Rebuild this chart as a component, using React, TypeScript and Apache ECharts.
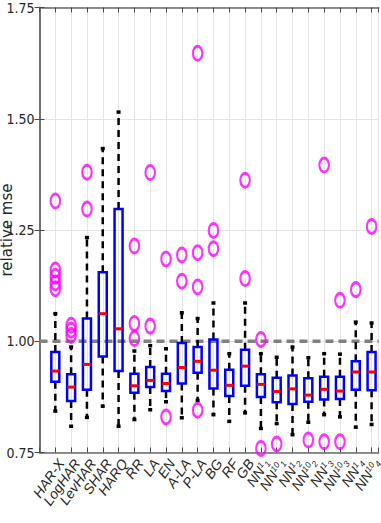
import React, { useEffect, useRef } from "react";
import * as echarts from "echarts";

// ---- data ----
const categories = [
  "HAR-X", "LogHAR", "LevHAR", "SHAR", "HARQ", "RR", "LA", "EN", "A-LA", "P-LA",
  "BG", "RF", "GB", "NN^1_1", "NN^10_1", "NN^1_2", "NN^10_2", "NN^1_3", "NN^10_3",
  "NN^1_4", "NN^10_4",
];
const whiskerLow = [0.843, 0.809, 0.829, 0.854, 0.809, 0.824, 0.846, 0.864, 0.828, 0.867, 0.835, 0.82, 0.839, 0.804, 0.815, 0.79, 0.818, 0.835, 0.83, 0.807, 0.813];
const q1 = [0.909, 0.866, 0.891, 0.966, 0.933, 0.884, 0.897, 0.888, 0.905, 0.929, 0.894, 0.877, 0.9, 0.875, 0.863, 0.859, 0.864, 0.869, 0.87, 0.891, 0.89];
const median = [0.933, 0.897, 0.948, 1.062, 1.028, 0.9, 0.912, 0.905, 0.941, 0.955, 0.935, 0.901, 0.944, 0.903, 0.887, 0.893, 0.879, 0.892, 0.888, 0.931, 0.931];
const q3 = [0.976, 0.926, 1.051, 1.155, 1.297, 0.927, 0.942, 0.927, 0.996, 0.987, 1.004, 0.936, 0.981, 0.926, 0.918, 0.923, 0.917, 0.92, 0.92, 0.955, 0.976];
const whiskerHigh = [1.062, 0.987, 1.233, 1.433, 1.515, 0.978, 0.99, 0.983, 1.064, 1.051, 1.086, 0.972, 1.086, 0.972, 0.964, 0.987, 0.963, 0.972, 0.971, 1.043, 1.041];
const outliers: number[][] = [
  [1.315, 1.16, 1.146, 1.131, 1.118],
  [1.036, 1.025, 1.013],
  [1.38, 1.297],
  [],
  [],
  [1.214, 1.04, 1.006],
  [1.379, 1.034],
  [1.185, 0.83],
  [1.194, 1.135],
  [1.647, 1.199, 1.122, 0.845],
  [1.249, 1.208],
  [],
  [1.362, 1.141],
  [1.004, 0.759],
  [0.769],
  [],
  [0.778],
  [1.396, 0.774],
  [1.092, 0.774],
  [1.116],
  [1.258],
];
const yTicks = [0.75, 1.0, 1.25, 1.5, 1.75];
const referenceLevel = 1.0;
const yLabel = "relative mse";

const NARROW = "'Liberation Sans Narrow', 'DejaVu Sans Condensed', 'Liberation Sans', Arial, sans-serif";
const SANS = "'Liberation Sans', Arial, sans-serif";
const WIDE = "'DejaVu Sans', 'Liberation Sans', sans-serif";
const TEXT = "#262626";
const X_MIN = 0;
const X_MAX = 21.45;

function labelFor(v: number): string {
  if (Math.abs(v - Math.round(v)) > 1e-6) return "";
  const k = Math.round(v) - 1;
  if (k < 0 || k >= categories.length) return "";
  const c = categories[k];
  const m = c.match(/^([^\^]+)\^([^_]+)_(.+)$/);
  if (m) return `{n|${m[1]}}{sup|${m[2]}}{sub|${m[3]}}`;
  return `{n|${c}}`;
}

export default function App() {
  const ref = useRef<HTMLDivElement>(null);
  useEffect(() => {
    if (!ref.current) return;
    const chart = echarts.init(ref.current, null, { renderer: "svg" });
    const boxData = categories.map((_, k) => [k + 1, whiskerLow[k], q1[k], median[k], q3[k], whiskerHigh[k]]);
    const outlierData: number[][] = [];
    outliers.forEach((arr, k) => arr.forEach((v) => outlierData.push([k + 1, v])));

    const axisLineStyle = { color: "#6a6a6a", width: 1.5 };
    const tickStyle = { color: "#4a4a4a", width: 1 };
    const gridColor = "#e4e4e4";

    chart.setOption({
      animation: false,
      backgroundColor: "#ffffff",
      grid: { left: 39.5, right: 2.3, top: 7.5, bottom: 70.5, containLabel: false, outerBoundsMode: "none" },
      xAxis: [
        {
          type: "value",
          min: X_MIN,
          max: X_MAX,
          interval: 1,
          position: "bottom",
          axisLine: { show: true, lineStyle: axisLineStyle },
          axisTick: { show: true, inside: true, length: 5, lineStyle: tickStyle },
          splitLine: { show: true, lineStyle: { color: gridColor, width: 1 } },
          axisLabel: {
            show: true,
            rotate: 55,
            align: "right",
            verticalAlign: "top",
            margin: 4,
            hideOverlap: false,
            formatter: labelFor,
            color: TEXT,
            fontStyle: "italic",
            fontSize: 14,
            fontFamily: SANS,
            rich: {
              n: { fontSize: 14, fontStyle: "italic", fontFamily: SANS, color: TEXT, lineHeight: 14 },
              sup: { fontSize: 8.5, fontStyle: "italic", fontFamily: SANS, color: TEXT, lineHeight: 8, verticalAlign: "top" },
              sub: { fontSize: 8.5, fontStyle: "italic", fontFamily: SANS, color: TEXT, lineHeight: 8, verticalAlign: "bottom" },
            },
          },
        },
        {
          type: "value",
          min: X_MIN,
          max: X_MAX,
          interval: 1,
          position: "top",
          axisLine: { show: true, lineStyle: axisLineStyle },
          axisTick: { show: true, inside: true, length: 5, lineStyle: tickStyle },
          splitLine: { show: false },
          axisLabel: { show: false },
        },
      ],
      yAxis: [
        {
          type: "value",
          min: yTicks[0],
          max: yTicks[yTicks.length - 1],
          interval: 0.25,
          position: "left",
          name: yLabel,
          nameLocation: "middle",
          nameGap: 27,
          nameRotate: 90,
          nameMoveOverlap: false,
          nameTextStyle: { color: TEXT, fontSize: 15, lineHeight: 12, fontFamily: WIDE },
          axisLine: { show: true, lineStyle: axisLineStyle },
          axisTick: { show: true, inside: true, length: 5, lineStyle: tickStyle },
          splitLine: { show: true, lineStyle: { color: gridColor, width: 1 } },
          axisLabel: {
            margin: 5,
            color: TEXT,
            fontSize: 14,
            fontFamily: NARROW,
            formatter: (v: number) => v.toFixed(2),
          },
        },
        {
          type: "value",
          min: yTicks[0],
          max: yTicks[yTicks.length - 1],
          interval: 0.25,
          position: "right",
          axisLine: { show: true, lineStyle: axisLineStyle },
          axisTick: { show: true, inside: true, length: 5, lineStyle: tickStyle },
          splitLine: { show: false },
          axisLabel: { show: false },
        },
      ],
      series: [
        {
          type: "line",
          xAxisIndex: 0,
          yAxisIndex: 0,
          z: 1,
          silent: true,
          showSymbol: false,
          data: [[X_MIN, referenceLevel], [X_MAX, referenceLevel]],
          lineStyle: { color: "#808080", width: 3.5, type: [8, 5] },
        },
        {
          type: "custom",
          xAxisIndex: 0,
          yAxisIndex: 0,
          z: 2,
          silent: true,
          data: boxData,
          encode: { x: 0, y: [1, 2, 3, 4, 5] },
          renderItem: (params: any, api: any) => {
            const i = api.value(0);
            const pLo = api.coord([i, api.value(1)]);
            const pA = api.coord([i, api.value(2)]);
            const pM = api.coord([i, api.value(3)]);
            const pB = api.coord([i, api.value(4)]);
            const pHi = api.coord([i, api.value(5)]);
            const x = pM[0];
            const hw = 4;
            const cap = 2;
            const wStyle = { stroke: "#000000", lineWidth: 2.5, lineDash: [7, 5], fill: null };
            const cStyle = { stroke: "#000000", lineWidth: 3.5, fill: null };
            return {
              type: "group",
              children: [
                { type: "line", shape: { x1: x, y1: pB[1], x2: x, y2: pHi[1] }, style: wStyle },
                { type: "line", shape: { x1: x, y1: pA[1], x2: x, y2: pLo[1] }, style: wStyle },
                { type: "line", shape: { x1: x - cap, y1: pHi[1], x2: x + cap, y2: pHi[1] }, style: cStyle },
                { type: "line", shape: { x1: x - cap, y1: pLo[1], x2: x + cap, y2: pLo[1] }, style: cStyle },
                {
                  type: "rect",
                  shape: { x: x - hw, y: pB[1], width: 2 * hw, height: pA[1] - pB[1] },
                  style: { fill: "none", stroke: "#0000ff", lineWidth: 2.5 },
                },
                {
                  type: "line",
                  shape: { x1: x - hw, y1: pM[1], x2: x + hw, y2: pM[1] },
                  style: { stroke: "#ff0000", lineWidth: 3 },
                },
              ],
            };
          },
        },
        {
          type: "scatter",
          xAxisIndex: 0,
          yAxisIndex: 0,
          z: 3,
          silent: true,
          data: outlierData,
          symbol: "path://M0,-1A1,1 0 1,1 0,1A1,1 0 1,1 0,-1Z",
          symbolKeepAspect: false,
          symbolSize: [9.5, 14],
          itemStyle: { color: "rgba(0,0,0,0)", borderColor: "#ff00ff", borderWidth: 2.5 },
        },
      ],
    });
    return () => chart.dispose();
  }, []);
  return (
    <div
      ref={ref}
      style={{ position: "fixed", left: 0, top: 0, width: 381, height: 523, background: "#fff" }}
    />
  );
}
